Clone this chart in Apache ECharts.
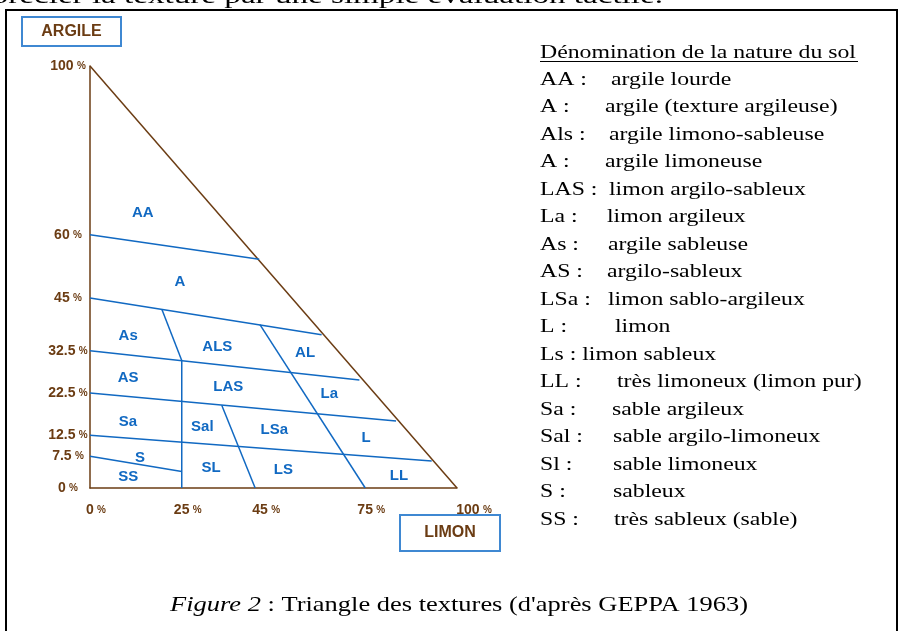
<!DOCTYPE html>
<html>
<head>
<meta charset="utf-8">
<script src="https://cdn.jsdelivr.net/npm/echarts@6/dist/echarts.min.js"></script>
<style>
html,body{margin:0;padding:0;background:#fff;}
#c{width:906px;height:631px;}
</style>
</head>
<body>
<div id="c"></div>
<script>
// ---- data (limon %, argile %) ----
const limonTicks = [0, 25, 45, 75, 100];
const argileTicks = [0, 7.5, 12.5, 22.5, 32.5, 45, 60, 100];

const hypotenuse = [[0, 100], [100, 0]];
const line60 = [[0, 60], [46.1, 54.2]];
const line45 = [[0, 45], [63.1, 36.3]];
const line325 = [[0, 32.5], [73.4, 25.6]];
const line225 = [[0, 22.5], [83.4, 15.9]];
const line125 = [[0, 12.5], [93.1, 6.4]];
const line75 = [[0, 7.5], [25, 3.9]];
const vert25 = [[25, 0], [25, 30.2]];
const slantAs = [[19.6, 42.3], [25, 30.2]];
const slantSal = [[35.9, 19.6], [45, 0]];
const slantAL = [[46.3, 38.7], [75, 0]];

const regionNames  = ['AA', 'A', 'As', 'ALS', 'AL', 'AS', 'LAS', 'La', 'Sa', 'Sal', 'LSa', 'L', 'S', 'SS', 'SL', 'LS', 'LL'];
const regionLimon  = [14.4, 24.5, 10.4, 34.7, 58.6, 10.4, 37.7, 65.2, 10.3, 30.6, 50.2, 75.2, 13.6, 10.4, 33.0, 52.7, 84.2];
const regionArgile = [65.2, 48.9, 36.0, 33.5, 32.1, 26.1, 24.0, 22.3, 15.7, 14.5, 13.7, 12.0, 7.2, 2.7, 4.7, 4.4, 2.8];

const legendTitle = 'Dénomination de la nature du sol';
const legendAbbr = ['AA :', 'A :', 'Als :', 'A :', 'LAS :', 'La :', 'As :', 'AS :', 'LSa :', 'L :', 'Ls : limon sableux', 'LL :', 'Sa :', 'Sal :', 'Sl :', 'S :', 'SS :'];
const legendDef = ['argile lourde', 'argile (texture argileuse)', 'argile limono-sableuse', 'argile limoneuse', 'limon argilo-sableux', 'limon argileux', 'argile sableuse', 'argilo-sableux', 'limon sablo-argileux', 'limon', '', 'très limoneux (limon pur)', 'sable argileux', 'sable argilo-limoneux', 'sable limoneux', 'sableux', 'très sableux (sable)'];
const legendDefX = [611, 605, 609, 605, 609, 607, 608, 607, 608, 615, 0, 617, 612, 613, 613, 613, 614];

const xTitle = 'LIMON';
const yTitle = 'ARGILE';
const captionItalic = 'Figure 2';
const captionRest = ' : Triangle des textures (d\'après GEPPA 1963)';
const topText = 'apprécier la texture par une simple évaluation tactile.';

// ---- styles ----
const BROWN = '#6b3c13';
const BLUE = '#1169c2';
const BOX = '#3f88d2';
const NARROW = "'Liberation Sans Narrow', 'Arial Narrow', 'Liberation Sans', Arial, sans-serif";
const SERIF = "'Liberation Serif', 'Times New Roman', serif";

function isTick(list, v) { return list.some(t => Math.abs(t - v) < 1e-6); }

function lineSeries(data, color) {
  return {
    type: 'line', data: data, symbol: 'none', silent: true, animation: false,
    lineStyle: { color: color, width: 1.5 }
  };
}

const series = [
  lineSeries(hypotenuse, BROWN),
  lineSeries(line60, BLUE), lineSeries(line45, BLUE), lineSeries(line325, BLUE),
  lineSeries(line225, BLUE), lineSeries(line125, BLUE), lineSeries(line75, BLUE),
  lineSeries(vert25, BLUE), lineSeries(slantAs, BLUE), lineSeries(slantSal, BLUE),
  lineSeries(slantAL, BLUE),
  {
    type: 'scatter', symbolSize: 0, silent: true, animation: false,
    itemStyle: { color: BLUE, opacity: 1 },
    data: regionNames.map((n, i) => [regionLimon[i], regionArgile[i], n]),
    label: {
      show: true, position: 'inside', formatter: p => p.data[2],
      color: BLUE, fontFamily: NARROW, fontWeight: 'bold', fontSize: 15,
      textBorderWidth: 0, opacity: 1
    }
  }
];

// graphics
const S = 1.25;
const graphics = [
  { type: 'rect', shape: { x: 6, y: 10, width: 891, height: 640 }, style: { fill: 'none', stroke: '#000', lineWidth: 2 }, silent: true },
  { type: 'rect', shape: { x: 22, y: 17, width: 99, height: 29 }, style: { fill: '#fff', stroke: BOX, lineWidth: 2 } },
  { type: 'text', x: 71.5, y: 31.5, style: { text: yTitle, fill: BROWN, font: 'bold 16px ' + NARROW, align: 'center', verticalAlign: 'middle', textAlign: 'center', textVerticalAlign: 'middle' } },
  { type: 'rect', shape: { x: 400, y: 515, width: 100, height: 36 }, style: { fill: '#fff', stroke: BOX, lineWidth: 2 } },
  { type: 'text', x: 450, y: 533, style: { text: xTitle, fill: BROWN, font: 'bold 16px ' + NARROW, align: 'center', verticalAlign: 'middle', textAlign: 'center', textVerticalAlign: 'middle' } },
  { type: 'text', x: 540, y: 53, scaleX: S, style: { text: legendTitle, fill: '#000', font: '19px ' + SERIF, align: 'left', verticalAlign: 'middle', textAlign: 'left', textVerticalAlign: 'middle' } },
  { type: 'line', shape: { x1: 540, y1: 61.5, x2: 858, y2: 61.5 }, style: { stroke: '#000', lineWidth: 1 } }
];
legendAbbr.forEach((a, i) => {
  const y = 80 + 27.5 * i;
  graphics.push({ type: 'text', x: 540, y: y, scaleX: S, style: { text: a, fill: '#000', font: '19px ' + SERIF, align: 'left', verticalAlign: 'middle', textAlign: 'left', textVerticalAlign: 'middle' } });
  if (legendDef[i]) {
    graphics.push({ type: 'text', x: legendDefX[i], y: y, scaleX: S, style: { text: legendDef[i], fill: '#000', font: '19px ' + SERIF, align: 'left', verticalAlign: 'middle', textAlign: 'left', textVerticalAlign: 'middle' } });
  }
});
graphics.push({
  type: 'text', x: 170, y: 605, scaleX: 1.26,
  style: {
    text: '{i|' + captionItalic + '}{r|' + captionRest + '}',
    rich: { i: { fontStyle: 'italic', fontFamily: SERIF, fontSize: 21, fill: '#000', color: '#000' }, r: { fontFamily: SERIF, fontSize: 21, fill: '#000', color: '#000' } },
    font: '21px ' + SERIF, fill: '#000', align: 'left', verticalAlign: 'middle', textAlign: 'left', textVerticalAlign: 'middle'
  }
});
graphics.push({
  type: 'text', x: 663, y: 9, scaleX: 1.38,
  style: { text: topText, fill: '#000', font: '24px ' + SERIF, align: 'right', verticalAlign: 'bottom', textAlign: 'right', textVerticalAlign: 'bottom' }
});

const chart = echarts.init(document.getElementById('c'), null, { renderer: 'canvas' });
chart.setOption({
  animation: false,
  backgroundColor: '#fff',
  grid: { left: 90, right: 449, top: 66, bottom: 143, containLabel: false },
  xAxis: {
    type: 'value', min: 0, max: 100, interval: 5,
    axisLine: { show: true, lineStyle: { color: BROWN, width: 1.5 } },
    axisTick: { show: false }, splitLine: { show: false },
    axisLabel: {
      interval: 0, margin: 15, padding: [0, 0, 0, 12],
      formatter: v => {
        if (!isTick(limonTicks, v)) return '';
        const s = v === 100 ? 'c' : (v === 45 ? 'b' : 'n');
        return '{' + s + '|' + v + '} {p|%}';
      },
      rich: {
        n: { fontFamily: NARROW, fontWeight: 'bold', fontSize: 14, color: BROWN },
        b: { fontFamily: NARROW, fontWeight: 'bold', fontSize: 14, color: BROWN, padding: [0, 0, 0, 10] },
        c: { fontFamily: NARROW, fontWeight: 'bold', fontSize: 14, color: BROWN, padding: [0, 0, 0, 22] },
        p: { fontFamily: NARROW, fontWeight: 'bold', fontSize: 10, color: BROWN }
      }
    }
  },
  yAxis: {
    type: 'value', min: 0, max: 100, interval: 2.5,
    axisLine: { show: true, lineStyle: { color: BROWN, width: 1.5 } },
    axisTick: { show: false }, splitLine: { show: false },
    axisLabel: {
      interval: 0, margin: 22, align: 'center',
      formatter: v => isTick(argileTicks, v) ? '{n|' + v + '} {p|%}' : '',
      rich: {
        n: { fontFamily: NARROW, fontWeight: 'bold', fontSize: 14, color: BROWN },
        p: { fontFamily: NARROW, fontWeight: 'bold', fontSize: 10, color: BROWN }
      }
    }
  },
  series: series,
  graphic: graphics
});
</script>
</body>
</html>
